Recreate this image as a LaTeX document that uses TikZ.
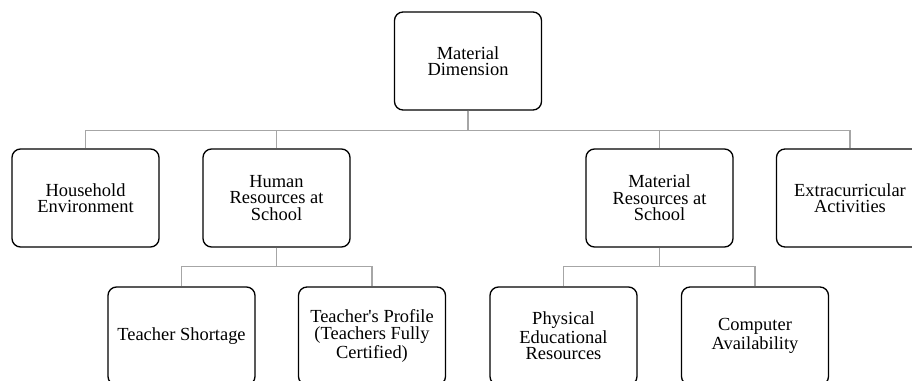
\documentclass[tikz,border=0pt]{standalone}
\usepackage{fontspec}
\setmainfont{Liberation Serif}
\begin{document}
\begin{tikzpicture}
		% material dimension and its sub-dimensions as a tree of boxes
		[block/.style={rectangle,rounded corners=0.17cm,draw=black,line width=0.75pt,minimum width=2.94cm,minimum height=1.96cm,align=center,font=\fontsize{10.5}{9.4}\selectfont},
		link/.style={draw=black!35,line width=0.6pt}]
		\useasboundingbox (0,0) rectangle (18.24,-7.62);

		\node[block] (top) at (9.36,-1.22) {Material\\Dimension};

		\node[block] (house) at (1.71,-3.96) {Household\\Environment};
		\node[block] (human) at (5.53,-3.96) {Human\\Resources at\\School};
		\node[block] (matres) at (13.19,-3.96) {Material\\Resources at\\School};
		\node[block] (extra) at (17.0,-3.96) {Extracurricular\\Activities};

		\node[block] (short) at (3.63,-6.72) {Teacher Shortage};
		\node[block] (profile) at (7.44,-6.72) {Teacher\textquotesingle s Profile\\(Teachers Fully\\Certified)};
		\node[block] (phys) at (11.27,-6.72) {Physical\\Educational\\Resources};
		\node[block] (comp) at (15.1,-6.72) {Computer\\Availability};

		\draw[link] (top.south) -- ++(0,-0.4) -| (house.north);
		\draw[link] (top.south) -- ++(0,-0.4) -| (human.north);
		\draw[link] (top.south) -- ++(0,-0.4) -| (matres.north);
		\draw[link] (top.south) -- ++(0,-0.4) -| (extra.north);

		\draw[link] (human.south) -- ++(0,-0.38) -| (short.north);
		\draw[link] (human.south) -- ++(0,-0.38) -| (profile.north);
		\draw[link] (matres.south) -- ++(0,-0.38) -| (phys.north);
		\draw[link] (matres.south) -- ++(0,-0.38) -| (comp.north);
	\end{tikzpicture}
\end{document}
